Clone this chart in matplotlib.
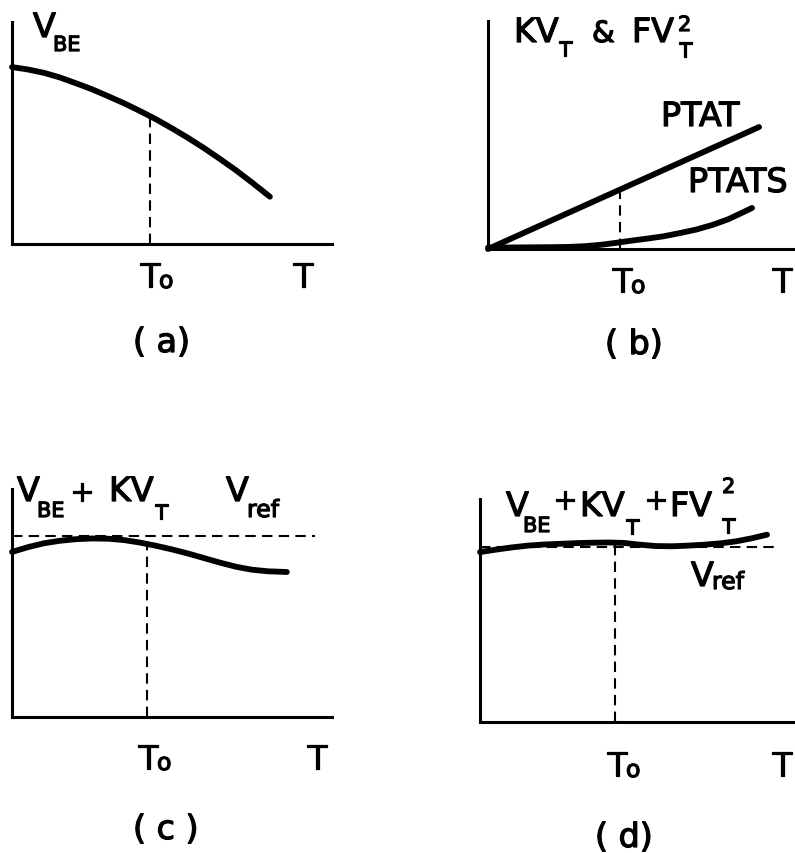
import numpy as np
import matplotlib
matplotlib.use("Agg")
import matplotlib.pyplot as plt
import matplotlib.patheffects as pe

W, H = 795, 854

# (a) V_BE falling with temperature
vbe_t = [0.0, 0.05, 0.1, 0.15, 0.2, 0.25, 0.3, 0.35, 0.4, 0.45, 0.5,
         0.55, 0.6, 0.65, 0.7, 0.75, 0.806]
vbe_v = [0.797, 0.786, 0.771, 0.750, 0.724, 0.697, 0.666, 0.634, 0.599,
         0.562, 0.521, 0.478, 0.432, 0.383, 0.332, 0.277, 0.213]
vbe_t0 = 0.576

# (b) PTAT and PTAT-squared terms
ptat_t = [0.0, 0.847]
ptat_v = [0.0, 0.535]
ptats_t = [0.0, 0.1, 0.2, 0.25, 0.3, 0.35, 0.4, 0.45, 0.5, 0.55, 0.6,
           0.65, 0.7, 0.75, 0.8, 0.825]
ptats_v = [0.006, 0.007, 0.008, 0.009, 0.012, 0.018, 0.027, 0.037, 0.046,
           0.056, 0.070, 0.085, 0.105, 0.130, 0.163, 0.180]
ptat_t0 = 0.26

# (c) first-order compensated
c_t = [0.0, 0.05, 0.1, 0.15, 0.2, 0.25, 0.3, 0.35, 0.4, 0.45, 0.5, 0.55,
       0.6, 0.65, 0.7, 0.75, 0.8, 0.859]
c_v = [0.724, 0.745, 0.762, 0.773, 0.780, 0.783, 0.782, 0.776, 0.765,
       0.751, 0.735, 0.717, 0.697, 0.677, 0.659, 0.646, 0.639, 0.636]
c_t0 = 0.759
c_ref = 0.794
c_ref_end = 0.947

# (d) second-order compensated
d_t = [0.0, 0.05, 0.1, 0.15, 0.2, 0.25, 0.3, 0.35, 0.4, 0.45, 0.5, 0.55,
       0.6, 0.65, 0.7, 0.75, 0.8, 0.85, 0.897]
d_v = [0.762, 0.773, 0.783, 0.791, 0.796, 0.799, 0.802, 0.804, 0.805,
       0.803, 0.795, 0.789, 0.788, 0.791, 0.795, 0.801, 0.810, 0.824, 0.840]
d_t0 = 0.805
d_ref = 0.785
d_ref_end = 0.922

t0_a, t0_b, t0_c, t0_d = 0.431, 0.4125, 0.422, 0.422

fig = plt.figure(figsize=(W / 100, H / 100), dpi=100)
fig.patch.set_facecolor("white")

CURVE_LW = 4.2
SPINE_LW = 2.2
DASH_LW = 1.5
MAIN = 24
SUB = 15
thick = [pe.withStroke(linewidth=0.9, foreground="black")]


def make_axes(left, top, bottom, width=320):
    ax = fig.add_axes([left / W, 1 - bottom / H, width / W, (bottom - top) / H])
    ax.set_xlim(0, 1)
    ax.set_ylim(0, 1)
    for s in ("top", "right"):
        ax.spines[s].set_visible(False)
    for s in ("left", "bottom"):
        ax.spines[s].set_linewidth(SPINE_LW)
        ax.spines[s].set_capstyle("projecting")
    ax.set_xticks([])
    ax.set_yticks([])
    ax.patch.set_visible(False)
    return ax


def txt(x, y, s, size=MAIN, **kw):
    fig.text(x / W, 1 - y / H, s, fontsize=size, ha="left", va="baseline",
             family="DejaVu Sans", path_effects=thick, **kw)


def t_labels(x_t0, x_t, y):
    txt(x_t0, y, "T")
    txt(x_t0 + 19, y + 1, "o", size=17)
    txt(x_t, y, "T")


def dashed(ax, xs, ys):
    ax.plot(xs, ys, color="black", lw=DASH_LW, dashes=(5, 3), clip_on=False)


def curve(ax, xs, ys):
    ax.plot(xs, ys, color="black", lw=CURVE_LW, solid_capstyle="round",
            solid_joinstyle="round", clip_on=False)


# (a)
ax_a = make_axes(12, 23, 245)
curve(ax_a, vbe_t, vbe_v)
dashed(ax_a, [t0_a, t0_a], [0, vbe_t0])
txt(33, 38, "V")
txt(53, 52, "BE", size=SUB)
t_labels(140, 293, 288)
txt(133, 353, "( a)")

# (b)
ax_b = make_axes(488, 22, 250)
curve(ax_b, ptat_t, ptat_v)
curve(ax_b, ptats_t, ptats_v)
dashed(ax_b, [t0_b, t0_b], [0, ptat_t0])
txt(514, 43, "KV")
txt(559, 57, "T", size=SUB)
txt(592, 43, "&", size=21)
txt(632, 43, "FV")
txt(678, 32, "2", size=SUB)
txt(679, 58, "T", size=SUB)
txt(661, 127, "PTAT")
txt(688, 193, "PTATS")
t_labels(612, 772, 293)
txt(605, 355, "( b)")

# (c)
ax_c = make_axes(12, 490, 718)
curve(ax_c, c_t, c_v)
dashed(ax_c, [0, c_ref_end], [c_ref, c_ref])
dashed(ax_c, [t0_c, t0_c], [0, c_t0])
txt(17, 502, "V")
txt(37, 518, "BE", size=SUB)
txt(70, 502, "+", size=21)
txt(109, 502, "KV")
txt(155, 520, "T", size=SUB)
txt(226, 502, "V")
txt(247, 518, "ref", size=SUB + 2)
t_labels(138, 307, 770)
txt(133, 840, "( c )")

# (d)
ax_d = make_axes(480, 500, 723)
curve(ax_d, d_t, d_v)
dashed(ax_d, [0, d_ref_end], [d_ref, d_ref])
dashed(ax_d, [t0_d, t0_d], [0, d_t0])
txt(506, 517, "V")
txt(523, 533, "BE", size=SUB)
txt(553, 510, "+", size=21)
txt(580, 517, "KV")
txt(626, 535, "T", size=SUB)
txt(644, 510, "+", size=21)
txt(670, 517, "FV")
txt(722, 494, "2", size=SUB)
txt(722, 534, "T", size=SUB)
txt(691, 587, "V")
txt(712, 590, "ref", size=SUB + 2)
t_labels(607, 772, 777)
txt(595, 848, "( d)")

fig.savefig("out.png", dpi=100, facecolor="white")
